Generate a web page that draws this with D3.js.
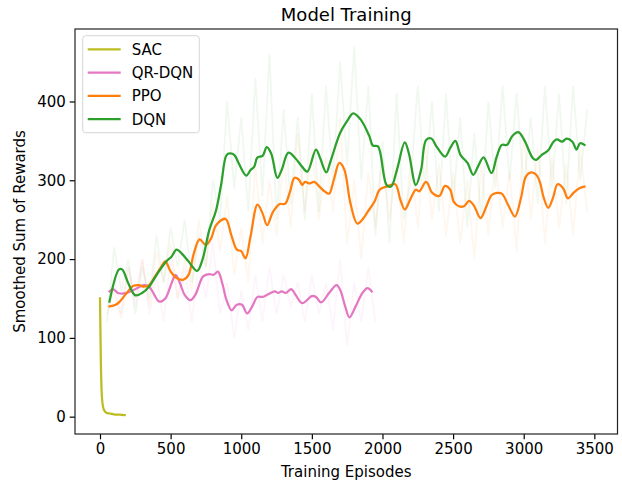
<!DOCTYPE html>
<html>
<head>
<meta charset="utf-8">
<script src="https://cdn.jsdelivr.net/npm/d3@7"></script>
<style>
  body { margin: 0; background: #fff; }
  text { font-family: "DejaVu Sans", sans-serif; fill: #000; }
</style>
</head>
<body>
<div id="chart"></div>
<script>
// smoothed curves, [episode, reward]
const sacSmooth = [[0,150],[3,110],[6,70],[10,40],[15,22],[22,12],[30,8],[45,5],[70,4],[100,3],[140,2.5],[175,2]];

const qrdqnSmooth = [[67,159],[91,162],[128,157],[189,157],[262,163],[311,167],[347,165],[371,159],[420,146],[462,150],
  [506,169],[535,180],[567,169],[598,155],[640,148],[676,155],[730,178],[774,181],[803,180],[835,184],[866,169],[896,148],
  [932,135],[969,142],[1005,142],[1042,131],[1078,140],[1115,152],[1151,152],[1188,155],[1237,159],[1261,157],[1286,159],
  [1315,157],[1354,162],[1383,155],[1432,144],[1500,153],[1529,152],[1566,145],[1622,157],[1675,167],[1700,161],[1736,140],
  [1766,126],[1810,140],[1858,157],[1895,163],[1924,159]];

const ppoSmooth = [[67,140],[111,142],[140,146],[189,157],[237,166],[274,167],[311,165],[347,167],[396,180],[433,190],
  [462,197],[501,184],[542,176],[591,174],[627,180],[664,207],[705,225],[749,218],[786,226],[822,243],[888,251],[932,229],
  [969,212],[1000,210],[1030,201],[1066,229],[1115,269],[1151,258],[1183,243],[1225,260],[1273,270],[1310,270],[1346,286],
  [1376,303],[1407,301],[1432,294],[1451,298],[1481,296],[1517,298],[1554,292],[1590,286],[1622,283],[1656,301],[1695,322],
  [1729,314],[1773,271],[1822,245],[1866,252],[1895,260],[1944,273],[1980,288],[2029,292],[2090,295],[2127,275],[2158,263],
  [2200,277],[2236,288],[2260,286],[2309,298],[2353,284],[2402,280],[2443,293],[2480,288],[2504,273],[2541,267],[2577,267],
  [2614,274],[2650,267],[2694,252],[2736,267],[2772,281],[2809,284],[2845,283],[2889,269],[2938,254],[2980,277],[3016,305],
  [3053,310],[3089,307],[3114,298],[3143,277],[3174,265],[3206,277],[3240,295],[3279,290],[3313,277],[3352,284],[3394,290],
  [3430,292]];

const dqnSmooth = [[67,146],[135,187],[157,187],[201,169],[250,154],[298,157],[347,165],[408,182],[469,197],[506,203],
  [542,212],[579,207],[627,197],[688,185],[725,199],[774,237],[822,262],[859,296],[896,332],[920,334],[952,332],[981,322],
  [1035,306],[1066,313],[1091,317],[1115,329],[1151,331],[1181,342],[1212,334],[1256,303],[1286,313],[1334,335],[1383,328],
  [1432,317],[1468,311],[1529,339],[1559,328],[1602,310],[1632,324],[1700,360],[1749,375],[1793,385],[1846,377],[1907,356],
  [1932,344],[1968,343],[2029,294],[2061,292],[2102,313],[2158,348],[2187,334],[2236,294],[2273,313],[2309,351],[2346,353],
  [2382,343],[2443,330],[2480,341],[2516,350],[2553,332],[2602,322],[2643,307],[2675,317],[2716,329],[2772,309],[2809,330],
  [2845,345],[2882,345],[2918,356],[2962,361],[3004,351],[3065,328],[3089,326],[3126,332],[3174,338],[3211,349],[3235,352],
  [3272,349],[3304,353],[3345,349],[3374,339],[3399,347],[3430,345]];

// faint raw rewards, sampled every 50 episodes from 50
const dqnRaw = [120,215,160,200,130,190,150,230,170,240,190,250,170,230,190,300,250,400,290,380,260,430,280,460,250,390,270,
  380,250,410,260,420,300,450,320,470,300,420,230,350,220,410,250,300,420,290,400,260,410,270,380,240,360,250,400,290,420,
  300,410,290,380,270,420,290,410,270,420,300,390];
const ppoRaw = [130,160,125,190,150,200,140,210,170,220,150,200,160,250,190,270,210,280,180,240,170,320,220,300,230,330,240,
  360,260,340,250,330,260,380,220,300,200,310,240,330,250,320,220,330,240,350,250,320,230,310,220,300,200,320,230,330,240,
  310,210,360,250,340,220,330,240,320,230,340,260];
const qrdqnRaw = [140,180,130,190,140,200,130,180,120,200,150,190,120,200,150,220,130,170,100,160,110,180,120,190,130,180,
  140,170,120,180,130,170,110,200,90,170,120,190,120];

const seriesNames = ["SAC", "QR-DQN", "PPO", "DQN"];
const seriesColors = ["#bcbd22", "#e377c2", "#ff7f0e", "#2ca02c"];
const xTicks = [0, 500, 1000, 1500, 2000, 2500, 3000, 3500];
const yTicks = [0, 100, 200, 300, 400];

const W = 622, H = 485;
const plot = { left: 75, right: 617.5, top: 29, bottom: 434 };
const fs = "15px";

const svg = d3.select("#chart").append("svg")
  .attr("width", W)
  .attr("height", H);

const x = d3.scaleLinear().domain([-177, 3664]).range([plot.left, plot.right]);
const y = d3.scaleLinear().domain([-22, 492]).range([plot.bottom, plot.top]);

function toPairs(vals) {
  return vals.map((v, i) => [50 + i * 50, v]);
}

const line = d3.line()
  .x(d => x(d[0]))
  .y(d => y(d[1]));

const smoothLine = d3.line()
  .x(d => x(d[0]))
  .y(d => y(d[1]))
  .curve(d3.curveCatmullRom.alpha(0.5));

let plotArea = svg.append("g");

// raw traces first, very faint
const raws = [[qrdqnRaw, 1], [ppoRaw, 2], [dqnRaw, 3]];
raws.forEach(function(r) {
  plotArea.append("path")
    .attr("d", line(toPairs(r[0])))
    .attr("fill", "none")
    .attr("stroke", seriesColors[r[1]])
    .attr("stroke-opacity", 0.07)
    .attr("stroke-width", 1.8);
});

const smooths = [sacSmooth, qrdqnSmooth, ppoSmooth, dqnSmooth];
smooths.forEach(function(s, i) {
  plotArea.append("path")
    .attr("d", smoothLine(s))
    .attr("fill", "none")
    .attr("stroke", seriesColors[i])
    .attr("stroke-width", 2.25)
    .attr("stroke-linejoin", "round")
    .attr("stroke-linecap", "square");
});

// axes
svg.append("g")
  .attr("transform", translate(0, plot.bottom))
  .call(d3.axisBottom(x).tickValues(xTicks).tickFormat(d3.format("d")).tickSize(5.3).tickPadding(3.8).tickSizeOuter(0))
  .call(g => g.select(".domain").remove())
  .call(g => g.selectAll("text").attr("font-size", fs).attr("font-family", "DejaVu Sans").attr("fill", "#000"))
  .call(g => g.selectAll("line").attr("stroke", "#000").attr("stroke-width", 1.2));

svg.append("g")
  .attr("transform", translate(plot.left, 0))
  .call(d3.axisLeft(y).tickValues(yTicks).tickFormat(d3.format("d")).tickSize(5.3).tickPadding(3.8).tickSizeOuter(0))
  .call(g => g.select(".domain").remove())
  .call(g => g.selectAll("text").attr("font-size", fs).attr("font-family", "DejaVu Sans").attr("fill", "#000"))
  .call(g => g.selectAll("line").attr("stroke", "#000").attr("stroke-width", 1.2));

// frame
svg.append("rect")
  .attr("x", plot.left)
  .attr("y", plot.top)
  .attr("width", plot.right - plot.left)
  .attr("height", plot.bottom - plot.top)
  .attr("fill", "none")
  .attr("stroke", "#222")
  .attr("stroke-width", 1.2);

// labels
svg.append("text")
  .attr("x", (plot.left + plot.right) / 2)
  .attr("y", 21)
  .attr("text-anchor", "middle")
  .attr("font-size", "18px")
  .text("Model Training");

svg.append("text")
  .attr("x", (plot.left + plot.right) / 2)
  .attr("y", 477)
  .attr("text-anchor", "middle")
  .attr("font-size", fs)
  .text("Training Episodes");

svg.append("text")
  .attr("transform", translate(25, (plot.top + plot.bottom) / 2) + " rotate(-90)")
  .attr("text-anchor", "middle")
  .attr("font-size", fs)
  .text("Smoothed Sum of Rewards");

// legend
let legend = svg.append("g").attr("transform", translate(82.7, 35.7));
legend.append("rect")
  .attr("width", 116.6)
  .attr("height", 97)
  .attr("rx", 3)
  .attr("fill", "#fff")
  .attr("fill-opacity", 0.8)
  .attr("stroke", "#d6d6d6")
  .attr("stroke-width", 1);

seriesNames.forEach(function(name, i) {
  let yy = 13.6 + i * 23.3;
  legend.append("line")
    .attr("x1", 5).attr("x2", 38)
    .attr("y1", yy).attr("y2", yy)
    .attr("stroke", seriesColors[i])
    .attr("stroke-width", 2.25);
  legend.append("text")
    .attr("x", 49)
    .attr("y", yy)
    .attr("dy", "0.36em")
    .attr("font-size", fs)
    .text(name);
});

function translate(a, b) {
  return 'translate(' + a + ',' + b + ')';
}
</script>
</body>
</html>
